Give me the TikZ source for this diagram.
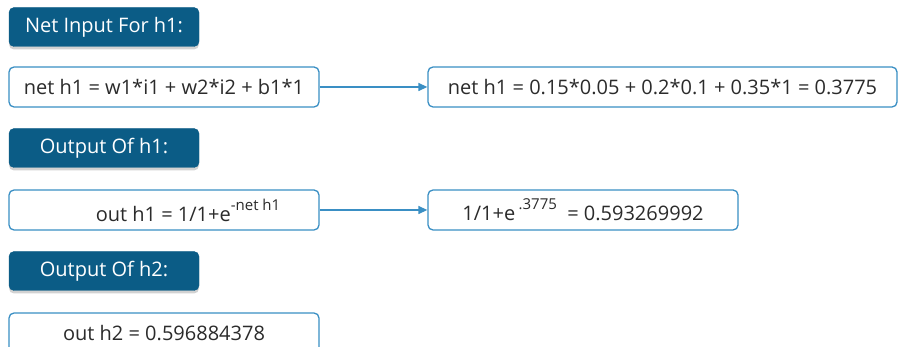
\documentclass[tikz,border=0pt]{standalone}
\usepackage{fontspec}
\setmainfont{Open Sans}
\usetikzlibrary{shadows,arrows.meta}
\definecolor{hdrblue}{HTML}{0B5C86}
\definecolor{lineblue}{HTML}{3A8FC4}
\definecolor{txtgray}{HTML}{2B2B2B}
\tikzset{
  hdr/.style={draw=hdrblue, fill=hdrblue, rounded corners=5pt, minimum width=190pt, minimum height=39pt,
    text=white, font=\fontsize{20}{24}\selectfont, inner sep=0pt,
    drop shadow={opacity=0.35, shadow xshift=0pt, shadow yshift=-3pt}},
  box/.style={draw=lineblue, line width=1.3pt, fill=white, rounded corners=5pt, minimum height=40pt,
    text=txtgray, font=\fontsize{20}{24}\selectfont, inner sep=0pt},
  conn/.style={draw=lineblue, line width=1.3pt, -{Triangle[length=9pt,width=8pt]}}
}
\newcommand{\supx}[1]{\raisebox{0.55em}{\fontsize{15}{17}\selectfont #1}}
\begin{document}
\begin{tikzpicture}[x=1pt,y=-1pt]
\useasboundingbox (0,0) rectangle (898,347);
\fill[white] (0,0) rectangle (898,347);
\node[hdr] (h1) at (104,27) {Net Input For h1:};
\node[box, minimum width=310pt] (b1) at (164,87) {net h1 = w1*i1 + w2*i2 + b1*1};
\node[box, minimum width=469pt] (b2) at (662.5,87) {net h1 = 0.15*0.05 + 0.2*0.1 + 0.35*1 = 0.3775};
\draw[conn] (b1.east) -- (b2.west);
\node[hdr] (h2) at (104,148) {Output Of h1:};
\node[box, minimum width=310pt] (b3) at (164,210) {\hspace*{48pt}out h1 = 1/1+e\supx{-net h1}};
\node[box, minimum width=310pt] (b4) at (583,210) {1/1+e\,\supx{.3775}\ \ = 0.593269992};
\draw[conn] (b3.east) -- (b4.west);
\node[hdr] (h3) at (104,271) {Output Of h2:};
\node[box, minimum width=310pt] (b5) at (164,333) {out h2 = 0.596884378};
\end{tikzpicture}
\end{document}
